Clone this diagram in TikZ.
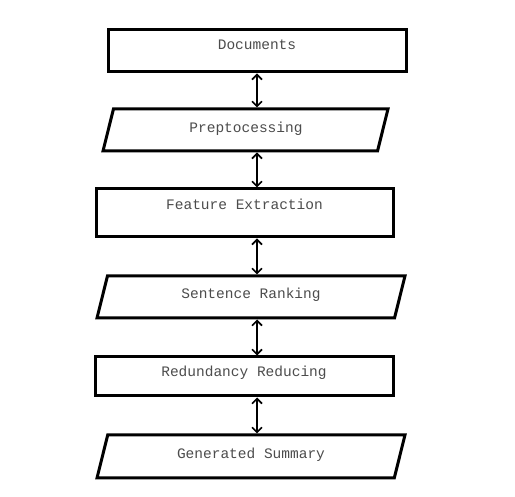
\documentclass[tikz,border=0pt]{standalone}
\usepackage{fontspec}
\setmonofont{Liberation Mono}
\usetikzlibrary{arrows.meta,shapes.geometric}

\begin{document}
\begin{tikzpicture}[x=1pt,y=-1pt,>={Straight Barb[length=5pt,width=10pt]},
  blk/.style={draw,fill=white,line width=3pt,minimum height=42pt,inner sep=2pt},
  io/.style={blk,trapezium,trapezium left angle=76,trapezium right angle=104,trapezium stretches body=true,
    inner ysep=0pt,text height=#1,text depth=0pt},
  io/.default=42pt,
  lbl/.style={anchor=base,font=\ttfamily\fontsize{14.5}{17}\selectfont,text=black!70},
  lnk/.style={<->,line width=1.6pt}]
  \useasboundingbox (0,0) rectangle (515,497);
  \coordinate (ax) at (257,0);
  % boxes
  \node[blk,minimum width=298pt] (docs) at (257,51) {};
  \node[io,minimum width=285pt] (prep) at (245.5,130) {};
  \node[blk,minimum width=297pt,minimum height=48pt] (feat) at (244.5,213) {};
  \node[io,minimum width=308pt] (rank) at (251,297) {};
  \node[blk,minimum width=298pt,minimum height=39pt] (redu) at (244,376.5) {};
  \node[io=43pt,minimum width=308pt] (summ) at (251,456.5) {};
  % labels
  \node[lbl] (docsT) at (257,50) {Documents};
  \node[lbl] (prepT) at (246,133) {Preptocessing};
  \node[lbl] (featT) at (244.5,209.3) {Feature Extraction};
  \node[lbl] (rankT) at (251,299) {Sentence Ranking};
  \node[lbl] (reduT) at (244,376.7) {Redundancy Reducing};
  \node[lbl] (summT) at (251,459) {Generated Summary};
  % links
  \foreach \a/\b in {docs/prep,prep/feat,feat/rank,rank/redu,redu/summ}
    \draw[lnk] (\a.south -| ax) -- (\b.north -| ax);
\end{tikzpicture}
\end{document}
